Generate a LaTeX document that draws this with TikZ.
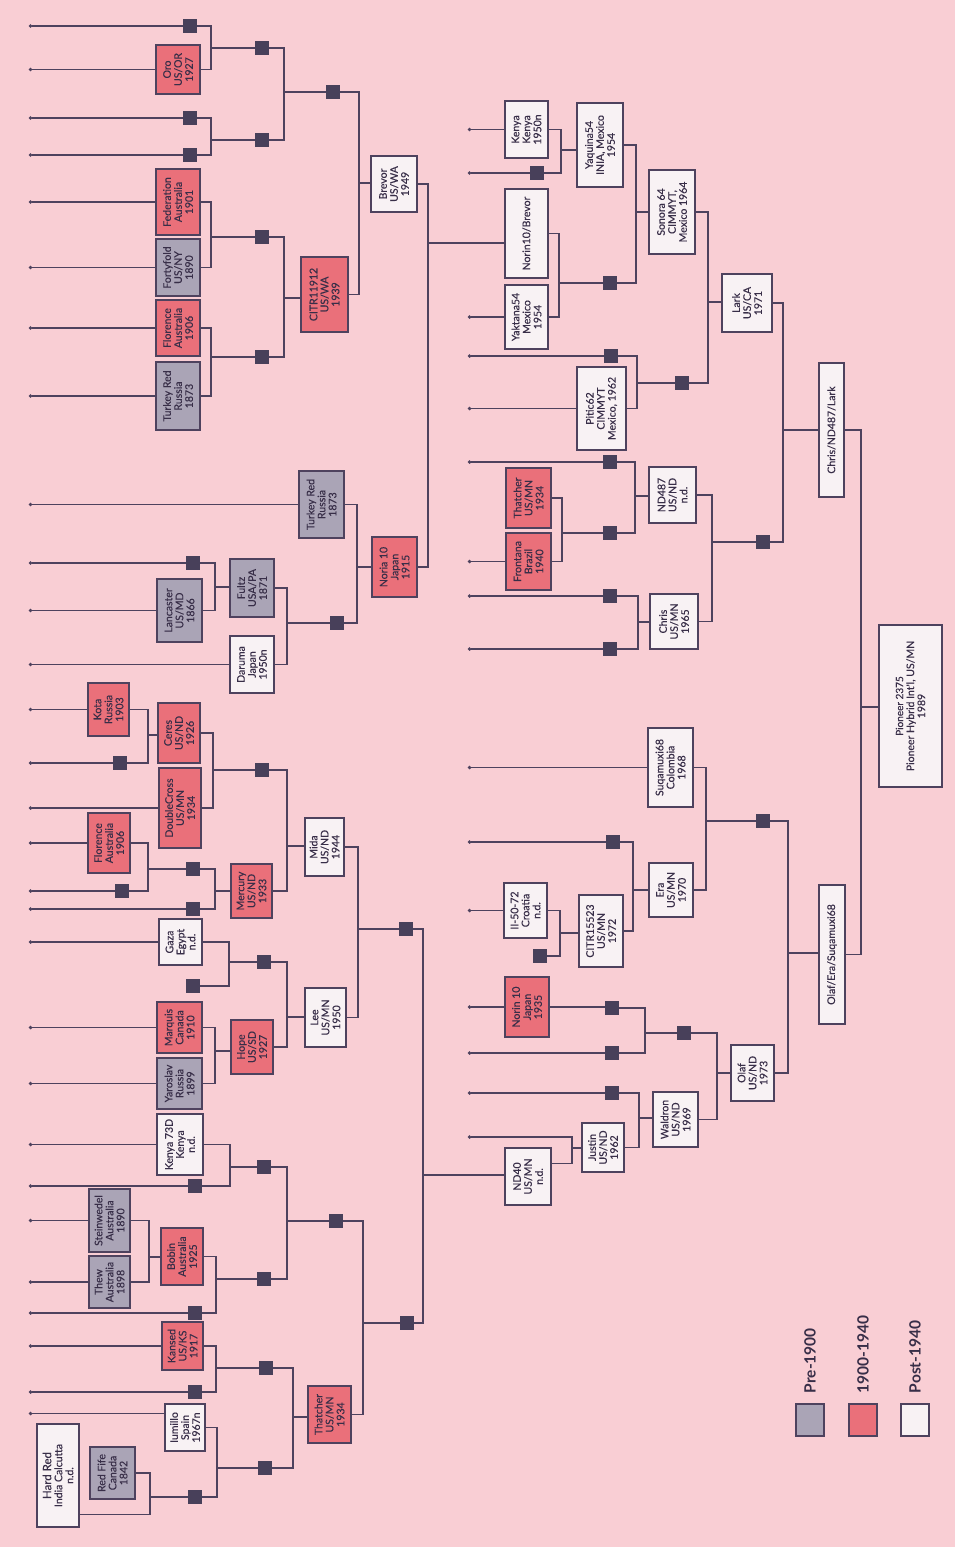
\documentclass[tikz,border=0pt]{standalone}
\usepackage{fontspec}
\newfontfamily\boxf[FakeBold=0.35]{Lato}
\newfontfamily\lgf{Lato}
\usetikzlibrary{arrows.meta,calc}
\definecolor{bgc}{RGB}{249,206,212}
\definecolor{redc}{RGB}{234,112,122}
\definecolor{greyc}{RGB}{170,164,182}
\definecolor{whitec}{RGB}{248,242,244}
\definecolor{linec}{RGB}{78,66,94}
\definecolor{sqc}{RGB}{72,64,90}
\definecolor{textc}{RGB}{56,46,72}
\tikzset{
  ln/.style={draw=linec, line width=1.4pt},
  leafln/.style={ln, {Circle[length=3.2pt]}-},
  basebox/.style={draw=linec, line width=1.4pt, rotate=90, inner sep=1pt, align=center,
    font=\boxf\fontsize{10.5}{11}\selectfont, text=textc},
  prebox/.style={basebox, fill=greyc},
  midbox/.style={basebox, fill=redc},
  postbox/.style={basebox, fill=whitec},
  sqnode/.style={fill=sqc, minimum size=14pt, inner sep=0pt, rotate=90},
  lgtext/.style={rotate=90, inner sep=0pt, font=\lgf\bfseries\fontsize{15.5}{17}\selectfont, text=textc},
}
\newcommand\wbox[7]{\node[#2, minimum width={(#6-#5)*1pt}, minimum height={(#4-#3)*1pt}] (#1) at ({(#3+#4)/2},{(#5+#6)/2}) {#7};}
\newcommand\wsq[3]{\node[sqnode] (#1) at (#2,#3) {};}
\newcommand\xcross[5]{%
  \coordinate (j-#5) at (#3,#4);
  \draw[ln] (#1.south) -| (j-#5) |- (#2.south);
  \draw[ln] (j-#5) -- (j-#5 -| #5.north);}
\newcommand\leafL[1]{\draw[leafln] (#1.north -| L) -- (#1.north);}
\newcommand\leafR[1]{\draw[leafln] (#1.north -| R) -- (#1.north);}
\begin{document}
\begin{tikzpicture}[x=1pt,y=-1pt]
\fill[bgc] (0,0) rectangle (955,1547);
\useasboundingbox (0,0) rectangle (955,1547);
\coordinate (L) at (29,0);
\coordinate (R) at (468,0);
% ---------- left tree boxes ----------
\wbox{oro}{midbox}{156}{200}{45}{94}{Oro\\US/OR\\1927}
\wbox{fed}{midbox}{156}{200}{169}{235}{Federation\\Australia\\1901}
\wbox{forty}{prebox}{156}{200}{239}{296}{Fortyfold\\US/NY\\1890}
\wbox{flor1}{midbox}{156}{200}{300}{356}{Florence\\Australia\\1906}
\wbox{turk1}{prebox}{156}{200}{362}{430}{Turkey Red\\Russia\\1873}
\wbox{citr1}{midbox}{301}{348}{257}{332}{CITR11912\\US/WA\\1939}
\wbox{brevor}{postbox}{371}{417}{156}{212}{Brevor\\US/WA\\1949}
\wbox{turk2}{prebox}{299}{344}{471}{538}{Turkey Red\\Russia\\1873}
\wbox{noria}{midbox}{372}{417}{537}{597}{Noria 10\\Japan\\1915}
\wbox{lanc}{prebox}{157}{202}{579}{642}{Lancaster\\US/MD\\1866}
\wbox{fultz}{prebox}{230}{274}{559}{617}{Fultz\\USA/PA\\1871}
\wbox{daruma}{postbox}{230}{274}{636}{693}{Daruma\\Japan\\1950n}
\wbox{kota}{midbox}{88}{129}{683}{736}{Kota\\Russia\\1903}
\wbox{ceres}{midbox}{158}{200}{703}{763}{Ceres\\US/ND\\1926}
\wbox{dcross}{midbox}{159}{201}{768}{848}{DoubleCross\\US/MN\\1934}
\wbox{flor2}{midbox}{88}{130}{813}{873}{Florence\\Australia\\1906}
\wbox{mercury}{midbox}{231}{272}{864}{918}{Mercury\\US/ND\\1933}
\wbox{mida}{postbox}{305}{344}{818}{876}{Mida\\US/ND\\1944}
\wbox{gaza}{postbox}{159}{202}{919}{965}{Gaza\\Egypt\\n.d.}
\wbox{marquis}{midbox}{157}{202}{1002}{1053}{Marquis\\Canada\\1910}
\wbox{yaro}{prebox}{157}{202}{1058}{1109}{Yaroslav\\Russia\\1899}
\wbox{hope}{midbox}{231}{273}{1020}{1074}{Hope\\US/SD\\1927}
\wbox{lee}{postbox}{305}{346}{988}{1047}{Lee\\US/MN\\1950}
\wbox{kenya73}{postbox}{157}{203}{1114}{1175}{Kenya 73D\\Kenya\\n.d.}
\wbox{stein}{prebox}{89}{130}{1189}{1252}{Steinwedel\\Australia\\1890}
\wbox{thew}{prebox}{89}{130}{1256}{1308}{Thew\\Australia\\1898}
\wbox{bobin}{midbox}{161}{203}{1228}{1285}{Bobin\\Australia\\1925}
\wbox{kansed}{midbox}{162}{203}{1322}{1370}{Kansed\\US/KS\\1917}
\wbox{iumillo}{postbox}{165}{205}{1404}{1451}{Iumillo\\Spain\\1967n}
\wbox{hardred}{postbox}{37}{79}{1424}{1527}{\fontsize{11.5}{12.5}\selectfont Hard Red\\India Calcutta\\n.d.}
\wbox{redfife}{prebox}{90}{135}{1447}{1499}{Red Fife\\Canada\\1842}
\wbox{thatch1}{midbox}{308}{351}{1386}{1443}{Thatcher\\US/MN\\1934}
% ---------- right tree boxes ----------
\wbox{kenya}{postbox}{505}{548}{101}{158}{Kenya\\Kenya\\1950n}
\wbox{yaquina}{postbox}{577}{623}{103}{187}{Yaquina54\\INIA, Mexico\\1954}
\wbox{nb}{postbox}{505}{548}{189}{278}{Norin10/Brevor}
\wbox{yaktana}{postbox}{505}{548}{285}{349}{Yaktana54\\Mexico\\1954}
\wbox{sonora}{postbox}{649}{695}{170}{254}{Sonora 64\\CIMMYT,\\Mexico 1964}
\wbox{pitic}{postbox}{577}{626}{367}{450}{Pitic62\\CIMMYT\\Mexico, 1962}
\wbox{lark}{postbox}{722}{772}{274}{332}{Lark\\US/CA\\1971}
\wbox{cnl}{postbox}{819}{844}{363}{497}{Chris/ND487/Lark}
\wbox{thatch2}{midbox}{506}{551}{468}{528}{Thatcher\\US/MN\\1934}
\wbox{frontana}{midbox}{506}{551}{533}{590}{Frontana\\Brazil\\1940}
\wbox{nd487}{postbox}{649}{696}{467}{523}{ND487\\US/ND\\n.d.}
\wbox{chris}{postbox}{650}{698}{594}{649}{Chris\\US/MN\\1965}
\wbox{pioneer}{postbox}{879}{942}{625}{787}{\fontsize{10}{12}\selectfont Pioneer 2375\\Pioneer Hybrid Int'l, US/MN\\1989}
\wbox{suqa}{postbox}{648}{693}{728}{807}{Suqamuxi68\\Colombia\\1968}
\wbox{ii50}{postbox}{504}{547}{883}{938}{II-50-72\\Croatia\\n.d.}
\wbox{citr2}{postbox}{579}{623}{895}{967}{CITR15523\\US/MN\\1972}
\wbox{era}{postbox}{649}{693}{863}{917}{Era\\US/MN\\1970}
\wbox{norin2}{midbox}{505}{549}{977}{1037}{Norin 10\\Japan\\1935}
\wbox{olaf}{postbox}{731}{774}{1045}{1101}{Olaf\\US/ND\\1973}
\wbox{waldron}{postbox}{653}{698}{1092}{1147}{Waldron\\US/ND\\1969}
\wbox{justin}{postbox}{582}{624}{1123}{1172}{Justin\\US/ND\\1962}
\wbox{nd40}{postbox}{505}{551}{1148}{1205}{ND40\\US/MN\\n.d.}
\wbox{oes}{postbox}{819}{845}{885}{1024}{Olaf/Era/Suqamuxi68}
% ---------- squares ----------
\wsq{s1}{190}{26}\wsq{q1}{262}{48}\wsq{s2}{190}{118}\wsq{s3}{190}{155}
\wsq{q2}{262}{140}\wsq{q3}{333}{92}\wsq{q4}{262}{237}\wsq{q5}{262}{357}
\wsq{s4}{193}{563}\wsq{q6}{337}{623}\wsq{s5}{120}{763}\wsq{q7}{262}{770}
\wsq{s6}{122}{891}\wsq{q8}{193}{869}\wsq{s7}{193}{909}\wsq{s8}{193}{986}
\wsq{q9}{264}{962}\wsq{q10}{406}{929}\wsq{s9}{195}{1186}\wsq{q11}{264}{1167}
\wsq{s10}{195}{1313}\wsq{q12}{264}{1279}\wsq{q13}{336}{1221}\wsq{q14}{407}{1323}
\wsq{s11}{195}{1392}\wsq{q15}{266}{1368}\wsq{q16}{195}{1497}\wsq{q17}{265}{1468}
\wsq{s12}{537}{173}\wsq{q18}{610}{283}\wsq{s13}{611}{356}\wsq{q19}{682}{383}
\wsq{s14}{610}{462}\wsq{q20}{610}{533}\wsq{s15}{610}{596}\wsq{s16}{610}{649}
\wsq{q21}{763}{542}\wsq{s17}{613}{842}\wsq{s18}{540}{956}\wsq{q22}{763}{821}
\wsq{s19}{612}{1008}\wsq{s20}{612}{1053}\wsq{q23}{684}{1033}\wsq{s21}{612}{1093}
% ---------- leaves ----------
\foreach \n in {oro,fed,forty,flor1,turk1,turk2,lanc,daruma,kota,dcross,flor2,gaza,marquis,yaro,kenya73,stein,thew,kansed,s1,s2,s3,s4,s5,s6,s7,s9,s10,s11}{\leafL{\n}}
\coordinate (iuL) at ($(iumillo.north)+(0,-14)$);
\draw[leafln] (iuL -| L) -- (iuL);
\foreach \n in {kenya,yaktana,pitic,frontana,suqa,ii50,norin2,s12,s13,s14,s15,s16,s17,s20,s21}{\leafR{\n}}
% ---------- crosses, left ----------
\xcross{s1}{oro}{211}{48}{q1}
\xcross{s2}{s3}{211}{140}{q2}
\xcross{q1}{q2}{284}{92}{q3}
\xcross{fed}{forty}{211}{237}{q4}
\xcross{flor1}{turk1}{211}{357}{q5}
\xcross{q4}{q5}{284}{298}{citr1}
\xcross{q3}{citr1}{359}{183}{brevor}
\xcross{s4}{lanc}{215}{587}{fultz}
\xcross{fultz}{daruma}{287}{623}{q6}
\xcross{turk2}{q6}{357}{567}{noria}
\xcross{brevor}{noria}{428}{243}{nb}
\xcross{kota}{s5}{148}{735}{ceres}
\xcross{ceres}{dcross}{213}{770}{q7}
\xcross{flor2}{s6}{148}{869}{q8}
\xcross{q8}{s7}{215}{891}{mercury}
\xcross{q7}{mercury}{287}{846}{mida}
\xcross{gaza}{s8}{229}{962}{q9}
\xcross{marquis}{yaro}{215}{1051}{hope}
\xcross{q9}{hope}{287}{1017}{lee}
\xcross{mida}{lee}{358}{929}{q10}
\xcross{kenya73}{s9}{230}{1167}{q11}
\xcross{stein}{thew}{149}{1257}{bobin}
\xcross{bobin}{s10}{216}{1279}{q12}
\xcross{q11}{q12}{287}{1221}{q13}
\xcross{kansed}{s11}{216}{1368}{q15}
\coordinate (hrR) at ($(hardred.south west)+(0,-13)$);
\coordinate (j-q16) at (150,1497);
\draw[ln] (redfife.south) -| (j-q16) |- (hrR);
\draw[ln] (j-q16) -- (q16.north);
\xcross{iumillo}{q16}{217}{1468}{q17}
\xcross{q15}{q17}{293}{1417}{thatch1}
\xcross{q13}{thatch1}{363}{1323}{q14}
\xcross{q10}{q14}{423}{1175}{nd40}
% ---------- crosses, right ----------
\xcross{kenya}{s12}{561}{150}{yaquina}
\xcross{nb}{yaktana}{559}{283}{q18}
\xcross{yaquina}{q18}{636}{212}{sonora}
\xcross{s13}{pitic}{637}{383}{q19}
\xcross{sonora}{q19}{708}{302}{lark}
\xcross{thatch2}{frontana}{562}{533}{q20}
\xcross{s14}{q20}{635}{496}{nd487}
\xcross{s15}{s16}{638}{622}{chris}
\xcross{nd487}{chris}{712}{542}{q21}
\xcross{lark}{q21}{783}{430}{cnl}
\xcross{ii50}{s18}{560}{933}{citr2}
\xcross{s17}{citr2}{633}{890}{era}
\xcross{suqa}{era}{706}{821}{q22}
\draw[ln] (norin2.south) -- (norin2.south -| s19.north);
\xcross{s19}{s20}{645}{1033}{q23}
\coordinate (lj) at (468,1137);
\coordinate (nd40r) at ($(nd40.south)+(0,-13)$);
\coordinate (j-justin) at (572,1148);
\draw[leafln] (lj) -| (j-justin) |- (nd40r);
\draw[ln] (j-justin) -- (j-justin -| justin.north);
\xcross{s21}{justin}{639}{1118}{waldron}
\xcross{q23}{waldron}{717}{1073}{olaf}
\xcross{q22}{olaf}{788}{953}{oes}
\xcross{cnl}{oes}{861}{707}{pioneer}
% ---------- legend ----------
\node[prebox, minimum width=32pt, minimum height=28pt] (lg1) at (810,1420) {};
\node[midbox, minimum width=32pt, minimum height=28pt] (lg2) at (863,1420) {};
\node[postbox, minimum width=32pt, minimum height=28pt] (lg3) at (915,1420) {};
\node[lgtext, anchor=west] (lt1) at ($(lg1.east)+(0,-10)$) {Pre-1900};
\node[lgtext, anchor=west] (lt2) at ($(lg2.east)+(0,-10)$) {1900-1940};
\node[lgtext, anchor=west] (lt3) at ($(lg3.east)+(0,-10)$) {Post-1940};
\end{tikzpicture}
\end{document}
